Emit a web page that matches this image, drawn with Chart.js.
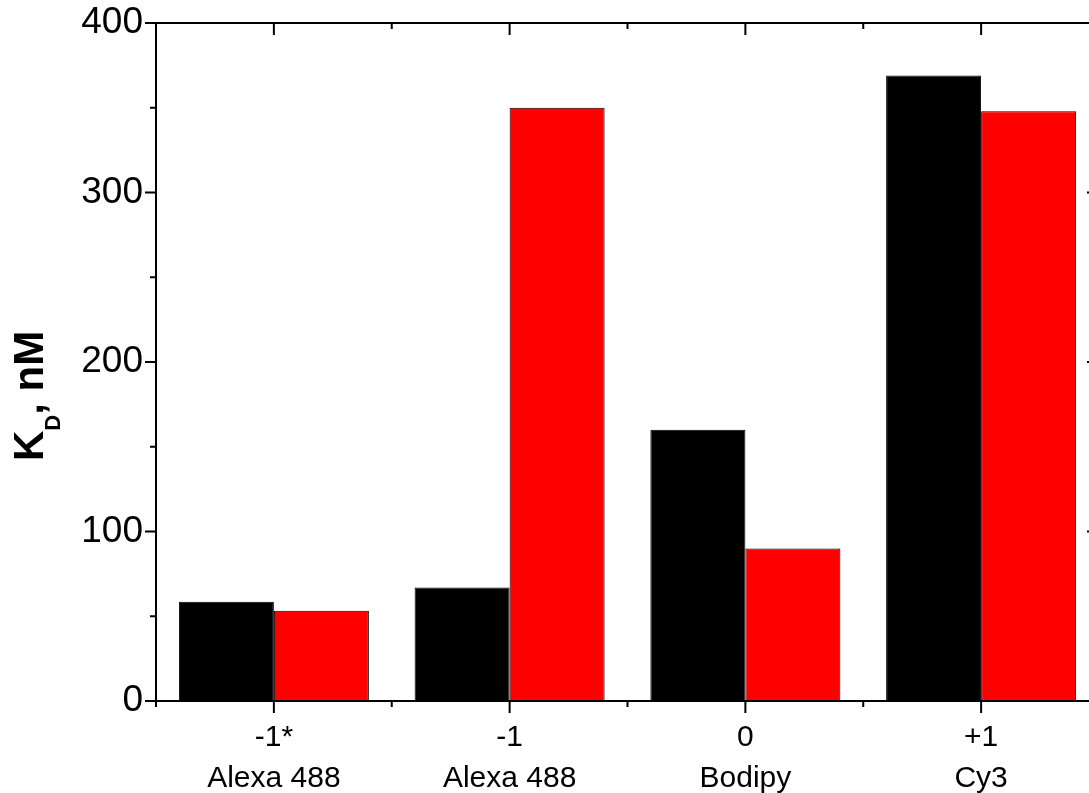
<!DOCTYPE html>
<html>
<head>
<meta charset="utf-8">
<script src="https://cdn.jsdelivr.net/npm/chart.js@4.4.1/dist/chart.umd.min.js"></script>
<style>
html,body{margin:0;padding:0;background:#fff;overflow:hidden}
#wrap{width:1110px;height:793px}
</style>
</head>
<body>
<div id="wrap"><canvas id="kd" width="1110" height="793"></canvas></div>
<script>
// ── DATA ─────────────────────────────────────────────────
var charges=['-1*','-1','0','+1'];
var dyes=['Alexa 488','Alexa 488','Bodipy','Cy3'];
var kdBlack=[58.6,67,160,369];
var kdRed=[53.3,350,90,348];
var yMajor=[0,100,200,300,400];
var yMinor=[50,150,250,350];

var FONT='Arial, "Liberation Sans", sans-serif';

// frame + ticks on all four sides (origin style)
var framePlugin={
  id:'frame',
  afterDraw:function(chart){
    var ctx=chart.ctx,a=chart.chartArea,xs=chart.scales.x,ys=chart.scales.y;
    ctx.save();
    ctx.strokeStyle='#000';ctx.lineWidth=2;ctx.lineCap='butt';
    ctx.beginPath();
    ctx.rect(a.left,a.top,a.right-a.left,a.bottom-a.top);
    ctx.stroke();
    ctx.beginPath();
    // y ticks: left outward, right inward
    yMajor.forEach(function(v){
      var p=ys.getPixelForValue(v);
      ctx.moveTo(a.left-11,p);ctx.lineTo(a.left,p);
      ctx.moveTo(a.right-12,p);ctx.lineTo(a.right,p);
    });
    yMinor.forEach(function(v){
      var p=ys.getPixelForValue(v);
      ctx.moveTo(a.left-6,p);ctx.lineTo(a.left,p);
      ctx.moveTo(a.right-6,p);ctx.lineTo(a.right,p);
    });
    // x ticks: bottom outward, top inward
    charges.forEach(function(_,i){
      var p=xs.getPixelForValue(i);
      ctx.moveTo(p,a.bottom);ctx.lineTo(p,a.bottom+12);
      ctx.moveTo(p,a.top);ctx.lineTo(p,a.top+12);
    });
    for(var i=0;i<=charges.length;i++){
      var p=i===0?a.left:(i===charges.length?a.right:(xs.getPixelForValue(i-1)+xs.getPixelForValue(i))/2);
      ctx.moveTo(p,a.bottom);ctx.lineTo(p,a.bottom+6);
      ctx.moveTo(p,a.top);ctx.lineTo(p,a.top+6);
    }
    ctx.stroke();

    // y title  K_D, nM
    ctx.translate(43,461);
    ctx.rotate(-Math.PI/2);
    ctx.fillStyle='#000';ctx.textBaseline='alphabetic';ctx.textAlign='left';
    ctx.font='bold 42px '+FONT;
    ctx.fillText('K',0,0);
    var w=ctx.measureText('K').width;
    ctx.font='bold 22px '+FONT;
    ctx.fillText('D',w,17);
    w+=ctx.measureText('D').width;
    ctx.font='bold 42px '+FONT;
    ctx.fillText(', nM',w,0);
    ctx.restore();
  }
};

new Chart(document.getElementById('kd').getContext('2d'),{
  type:'bar',
  data:{
    labels:charges.map(function(c,i){return [c,dyes[i]];}),
    datasets:[
      {data:kdBlack,backgroundColor:'#000000',borderColor:'#000000',borderWidth:1,borderSkipped:false},
      {data:kdRed,backgroundColor:'#ff0000',borderColor:'#000000',borderWidth:1,borderSkipped:false}
    ]
  },
  options:{
    responsive:false,
    animation:false,
    layout:{padding:{left:0,top:23,right:11,bottom:0}},
    datasets:{bar:{categoryPercentage:0.806,barPercentage:1}},
    plugins:{legend:{display:false},tooltip:{enabled:false},title:{display:false}},
    scales:{
      x:{
        grid:{display:false},border:{display:false},
        ticks:{color:'#000',padding:8.5,maxRotation:0,autoSkip:false,font:{family:FONT,size:30,lineHeight:1.37}},
        afterFit:function(s){s.height=92;s.paddingLeft=0;s.paddingRight=0;}
      },
      y:{
        min:0,max:400,
        grid:{display:false},border:{display:false},
        ticks:{stepSize:100,color:'#000',padding:5,font:{family:FONT,size:37}},
        afterFit:function(s){s.width=156;s.paddingTop=0;s.paddingBottom=0;}
      }
    }
  },
  plugins:[framePlugin]
});
</script>
</body>
</html>
